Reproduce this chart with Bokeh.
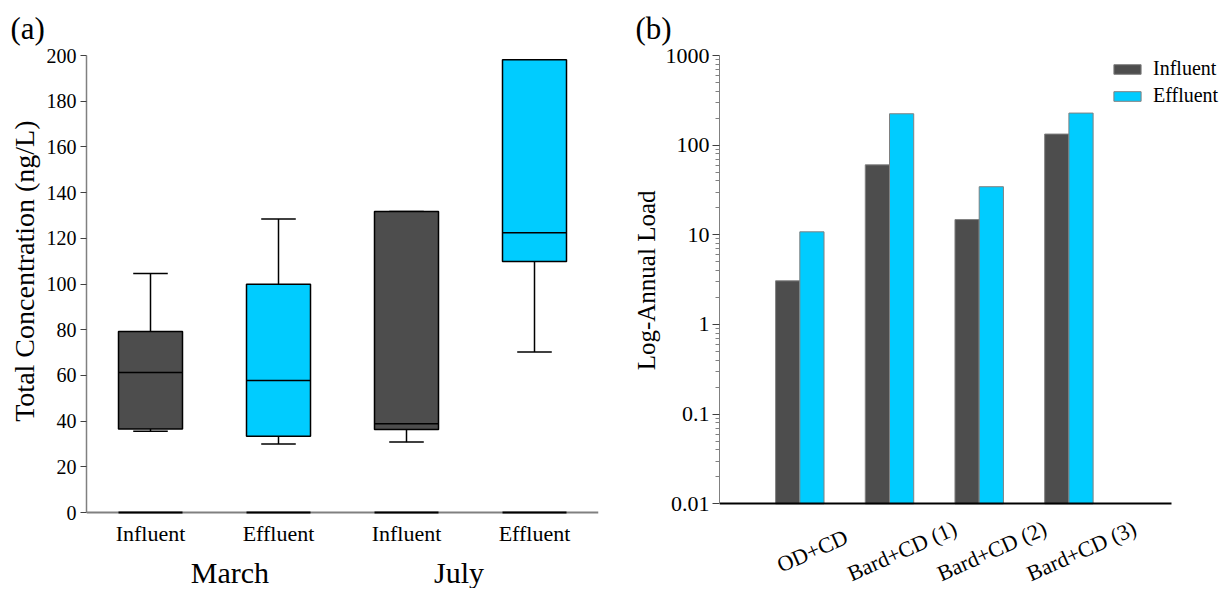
from bokeh.plotting import figure
from bokeh.layouts import row
from bokeh.models import Range1d, FixedTicker, Legend, LegendItem, CustomJSTickFormatter, Title
from bokeh.core.properties import value
from bokeh.embed import file_html
from bokeh.resources import INLINE

FONT = "Liberation Serif"

# ---------------- data: panel (a) box plots ----------------
box_labels = ["Influent", "Effluent", "Influent", "Effluent"]
months = ["March", "July"]
box_low = [35.6, 30.0, 30.8, 70.2]
box_q1 = [36.5, 33.4, 36.3, 109.8]
box_median = [61.3, 57.8, 38.8, 122.4]
box_q3 = [79.2, 99.9, 131.7, 198.1]
box_high = [104.6, 128.5, 131.7, 198.1]
box_colors = ["#4d4d4d", "#00ccff", "#4d4d4d", "#00ccff"]
y_ticks_a = [0, 20, 40, 60, 80, 100, 120, 140, 160, 180, 200]

# ---------------- data: panel (b) log bar chart ----------------
sites = ["OD+CD", "Bard+CD (1)", "Bard+CD (2)", "Bard+CD (3)"]
load_influent = [3.07, 60.3, 14.8, 133.0]
load_effluent = [10.8, 224.0, 34.4, 228.0]
series_names = ["Influent", "Effluent"]
series_colors = ["#4d4d4d", "#00ccff"]
y_ticks_b = [0.01, 0.1, 1, 10, 100, 1000]

# ---------------- layout constants (pixels) ----------------
W1, W2, H = 620, 600, 588
TOP = 55              # frame top (both panels)
GREY = "#808080"

# ================= panel (a) =================
A_LEFT, A_RIGHT = 86, 22
a_axis_y = 512                      # pixel row of value 0
a_ppu_y = (a_axis_y - TOP) / 200.0  # pixels per unit
a_ylo = -(H - a_axis_y) / a_ppu_y
p1 = figure(width=W1, height=H, x_range=Range1d(0.5, 4.5), y_range=Range1d(a_ylo, 200),
            output_backend="svg", toolbar_location=None,
            min_border_left=A_LEFT, min_border_right=A_RIGHT,
            min_border_top=TOP, min_border_bottom=0)
p1.outline_line_color = None
p1.xgrid.grid_line_color = None
p1.ygrid.grid_line_color = None

pos_a = list(range(1, len(box_labels) + 1))
half = 0.25
cap = 0.135
left_edge = [x - half for x in pos_a]
right_edge = [x + half for x in pos_a]

p1.segment(x0=pos_a, x1=pos_a, y0=box_q3, y1=box_high, line_color="black", line_width=1.5)
p1.segment(x0=pos_a, x1=pos_a, y0=box_q1, y1=box_low, line_color="black", line_width=1.5)
p1.segment(x0=[x - cap for x in pos_a], x1=[x + cap for x in pos_a], y0=box_high, y1=box_high,
           line_color="black", line_width=1.5)
p1.segment(x0=[x - cap for x in pos_a], x1=[x + cap for x in pos_a], y0=box_low, y1=box_low,
           line_color="black", line_width=1.5)
p1.vbar(x=pos_a, width=2 * half, bottom=box_q1, top=box_q3, fill_color=box_colors,
        line_color="black", line_width=1.5)
p1.segment(x0=left_edge, x1=right_edge, y0=box_median, y1=box_median,
           line_color="black", line_width=1.5)

xa = p1.xaxis[0]
xa.fixed_location = 0
xa.ticker = FixedTicker(ticks=[])
xa.major_label_text_font_size = "0px"
xa.major_tick_line_color = None
xa.minor_tick_line_color = None
xa.major_tick_out = 0
xa.minor_tick_out = 0
xa.axis_line_color = GREY
xa.axis_line_width = 2

# short dark marks on the axis under each box (drawn above the axis line)
base = p1.segment(x0=left_edge, x1=right_edge, y0=[0] * 4, y1=[0] * 4,
                  line_color="black", line_width=2)
base.level = "overlay"

ya = p1.yaxis[0]
ya.bounds = (0, 200)
ya.ticker = FixedTicker(ticks=y_ticks_a)
ya.major_label_text_font = FONT
ya.major_label_text_font_size = "20px"
ya.major_label_text_color = "black"
ya.major_tick_out = 6
ya.major_tick_in = 0
ya.major_tick_line_color = "#404040"
ya.major_label_standoff = 4
ya.axis_line_color = GREY
ya.axis_line_width = 1.5

# category labels and month labels (inside the extended frame, below value 0)
p1.text(x=pos_a, y=[-(533 - a_axis_y) / a_ppu_y] * len(pos_a), text=box_labels,
        text_font=value(FONT), text_font_size=value("22px"), text_align="center",
        text_baseline="middle", text_color="black")
month_shift = [0.12, -0.09]
p1.text(x=[pos_a[0] + 0.5 + month_shift[0], pos_a[2] + 0.5 + month_shift[1]],
        y=[-(572 - a_axis_y) / a_ppu_y] * 2, text=months,
        text_font=value(FONT), text_font_size=value("30px"), text_align="center",
        text_baseline="middle", text_color="black")

p1.add_layout(Title(text="Total Concentration (ng/L)", align="right", offset=120 - TOP,
                    text_font=FONT, text_font_size="28px", text_font_style="normal",
                    text_color="black", standoff=8), "left")
p1.add_layout(Title(text="(a)", align="left", vertical_align="top", offset=10 - A_LEFT,
                    text_font=FONT, text_font_size="31px", text_font_style="normal",
                    text_color="black", standoff=16), "above")

# ================= panel (b) =================
B_LEFT = 719 - W1
b_ppu_x = 89.7
x_lo = 1 - 80.3 / b_ppu_x
x_hi = x_lo + (W2 - B_LEFT) / b_ppu_x
x_axis_end = x_lo + 452 / b_ppu_x
b_axis_y = 503.3
b_ppd = (b_axis_y - TOP) / 5.0      # pixels per decade
b_ylo = 10 ** (-2 - (H - b_axis_y) / b_ppd)
p2 = figure(width=W2, height=H, x_range=Range1d(x_lo, x_hi), y_range=Range1d(b_ylo, 1000),
            y_axis_type="log", output_backend="svg", toolbar_location=None,
            min_border_left=B_LEFT, min_border_right=0,
            min_border_top=TOP, min_border_bottom=0)
p2.outline_line_color = None
p2.xgrid.grid_line_color = None
p2.ygrid.grid_line_color = None

pos_b = list(range(1, len(sites) + 1))
bw = 0.27
r_inf = p2.vbar(x=[x - bw / 2 for x in pos_b], width=bw, bottom=0.01, top=load_influent,
                fill_color=series_colors[0], line_color=GREY, line_width=1)
r_eff = p2.vbar(x=[x + bw / 2 for x in pos_b], width=bw, bottom=0.01, top=load_effluent,
                fill_color=series_colors[1], line_color=GREY, line_width=1)

xb = p2.xaxis[0]
xb.fixed_location = 0.01
xb.bounds = (x_lo, x_axis_end)
xb.ticker = FixedTicker(ticks=[])
xb.major_label_text_font_size = "0px"
xb.major_tick_line_color = None
xb.minor_tick_line_color = None
xb.major_tick_out = 0
xb.minor_tick_out = 0
xb.axis_line_color = "black"
xb.axis_line_width = 2

minor_b = [m * 10.0 ** e for e in range(-2, 3) for m in range(2, 10)]
yb = p2.yaxis[0]
yb.bounds = (0.01, 1000)
yb.ticker = FixedTicker(ticks=y_ticks_b, minor_ticks=minor_b)
yb.formatter = CustomJSTickFormatter(code="return String(tick);")
yb.major_label_text_font = FONT
yb.major_label_text_font_size = "22px"
yb.major_label_text_color = "black"
yb.major_tick_out = 7
yb.major_tick_in = 0
yb.minor_tick_out = 4
yb.minor_tick_in = 0
yb.major_tick_line_color = "#404040"
yb.minor_tick_line_color = GREY
yb.major_label_standoff = 3
yb.axis_line_color = GREY
yb.axis_line_width = 1

lab_y = 10 ** (-2 - 47 / b_ppd)
p2.text(x=[x + 0.14 for x in pos_b], y=[lab_y] * len(pos_b), text=sites, angle=24,
        angle_units="deg", text_font=value(FONT), text_font_size=value("22px"),
        text_align="center", text_baseline="middle", text_color="black")

p2.add_layout(Title(text="Log-Annual Load", align="right", offset=190 - TOP,
                    text_font=FONT, text_font_size="25px", text_font_style="normal",
                    text_color="black", standoff=5), "left")
p2.add_layout(Title(text="(b)", align="left", vertical_align="top", offset=635 - 719,
                    text_font=FONT, text_font_size="31px", text_font_style="normal",
                    text_color="black", standoff=16), "above")

b_frame_h = H - TOP
legend = Legend(items=[LegendItem(label=series_names[0], renderers=[r_inf]),
                       LegendItem(label=series_names[1], renderers=[r_eff])],
                location=(1110 - 719, b_frame_h - 52), orientation="vertical",
                glyph_width=34, glyph_height=12, label_height=22, label_width=66,
                spacing=4, label_standoff=9, padding=0, margin=0,
                label_text_font=FONT, label_text_font_size="20px",
                label_text_color="black", background_fill_alpha=0,
                border_line_alpha=0)
p2.add_layout(legend)

layout = row(p1, p2)
open("out.html", "w").write(file_html(layout, INLINE))
